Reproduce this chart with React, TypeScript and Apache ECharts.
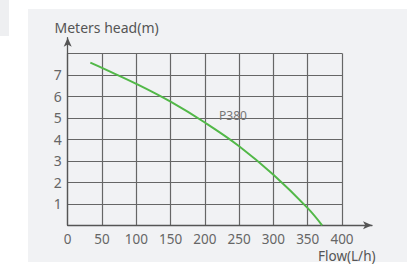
import React, { useEffect, useRef } from "react";
import * as echarts from "echarts";

const xTicks = [0, 50, 100, 150, 200, 250, 300, 350, 400];
const yTicks = [1, 2, 3, 4, 5, 6, 7];
const flow = [33, 50, 100, 150, 200, 250, 300, 350, 371];
const head = [7.57, 7.32, 6.58, 5.75, 4.78, 3.68, 2.35, 0.8, 0];
const seriesName = "P380";
const labelPos = [241, 5.13];

export default function App() {
  const ref = useRef<HTMLDivElement>(null);
  useEffect(() => {
    const chart = echarts.init(ref.current!, null, { renderer: "svg" });
    const font = "Noto Sans";
    const gridL = 67.7, gridT = 53.3, gridR = 407 - 342, gridB = 273 - 225.3;
    chart.setOption({
      animation: false,
      backgroundColor: "#ffffff",
      graphic: [
        { type: "rect", z: -10, shape: { x: 0, y: 0, width: 9, height: 36 }, style: { fill: "#eeeff1" } },
        { type: "rect", z: -10, shape: { x: 28, y: 9, width: 379, height: 253 }, style: { fill: "#f1f2f4" } },
        {
          type: "text", x: 54.5, y: 27, z: 10,
          style: { text: "Meters head(m)", fontSize: 14, fontFamily: font, fill: "#555", verticalAlign: "middle", textAlign: "left" },
        },
        {
          type: "text", x: 318, y: 256, z: 10,
          style: { text: "Flow(L/h)", fontSize: 13.5, fontFamily: font, fill: "#555", verticalAlign: "middle", textAlign: "left" },
        },
      ],
      grid: [
        { left: gridL, top: gridT, right: gridR, bottom: gridB },
        { left: gridL, top: 37.7, right: 407 - 372, bottom: gridB },
      ],
      xAxis: [
        {
          type: "value", gridIndex: 0, min: 0, max: 400, interval: 50,
          axisLine: { show: false },
          axisTick: { show: false },
          axisLabel: {
            color: "#666", fontSize: 13.5, fontFamily: font, margin: 7,
            customValues: xTicks,
          },
          splitLine: { show: true, lineStyle: { color: "#666", width: 1.2 } },
        },
        {
          type: "value", gridIndex: 1, min: 0, max: 1,
          axisLine: { show: true, symbol: ["none", "arrow"], symbolSize: [6, 9], lineStyle: { color: "#555", width: 1.3 } },
          axisTick: { show: false }, axisLabel: { show: false }, splitLine: { show: false },
        },
      ],
      yAxis: [
        {
          type: "value", gridIndex: 0, min: 0, max: 8, interval: 1,
          axisLine: { show: false },
          axisTick: { show: false },
          axisLabel: {
            color: "#666", fontSize: 14, fontFamily: font, margin: 6,
            customValues: yTicks,
          },
          splitLine: { show: true, lineStyle: { color: "#666", width: 1.2 } },
        },
        {
          type: "value", gridIndex: 1, min: 0, max: 1,
          axisLine: { show: true, symbol: ["none", "arrow"], symbolSize: [6, 9], lineStyle: { color: "#555", width: 1.3 } },
          axisTick: { show: false }, axisLabel: { show: false }, splitLine: { show: false },
        },
      ],
      series: [
        {
          name: seriesName,
          type: "line",
          xAxisIndex: 0, yAxisIndex: 0,
          data: flow.map((f, i) => [f, head[i]]),
          smooth: 0.4,
          showSymbol: false,
          lineStyle: { color: "#52b848", width: 2 },
          markPoint: {
            symbol: "circle", symbolSize: 0,
            label: { show: true, position: "inside", formatter: seriesName, color: "#777", fontSize: 12, fontFamily: font },
            data: [{ coord: labelPos }],
          },
        },
      ],
    });
    return () => chart.dispose();
  }, []);
  return <div ref={ref} style={{ position: "fixed", left: 0, top: 0, width: 407, height: 273 }} />;
}
